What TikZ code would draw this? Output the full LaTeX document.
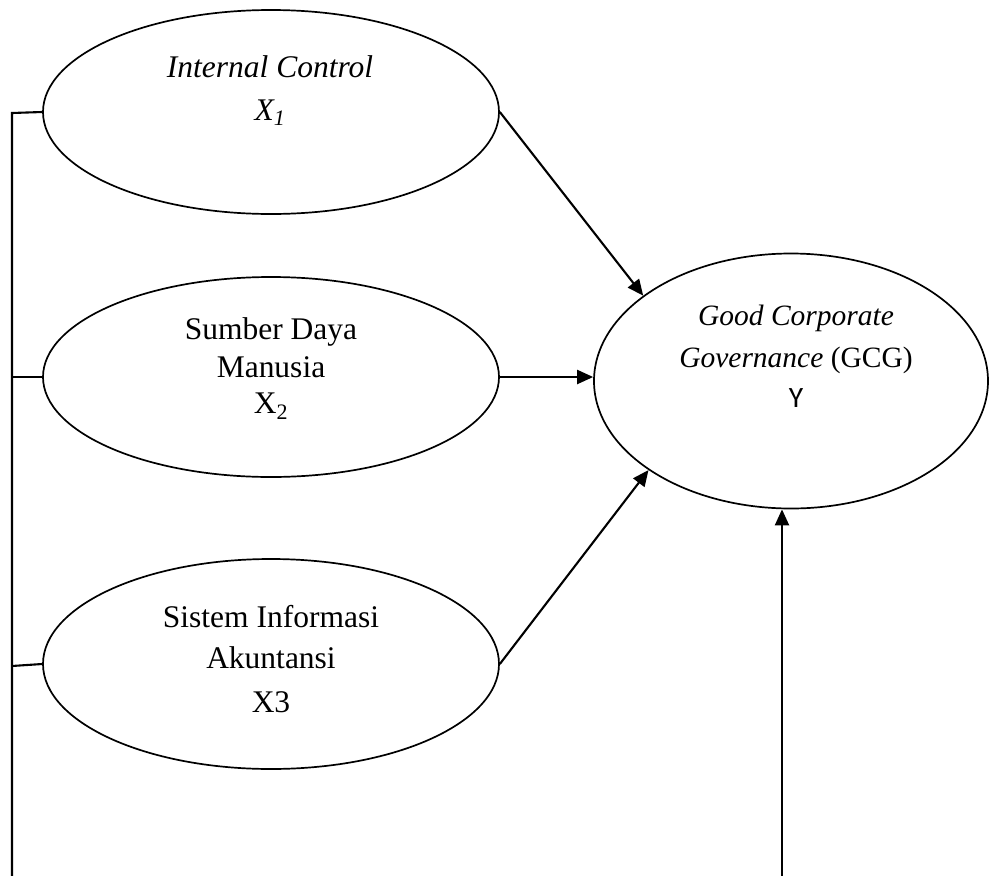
\documentclass[tikz,border=0pt]{standalone}
\usepackage{fontspec}
\setmainfont{Liberation Serif}
\newfontfamily\calfont{Carlito}
\usetikzlibrary{shapes.geometric,arrows.meta}
\begin{document}
\begin{tikzpicture}[x=1pt,y=-1pt,
  line width=2.1pt,
  latent/.style={draw, ellipse, inner sep=0pt, line width=1.7pt},
  lbl/.style={anchor=base, inner sep=0pt, font=\fontsize{31.5}{38}\selectfont},
  lbly/.style={anchor=base, inner sep=0pt, font=\fontsize{29.5}{36}\selectfont},
  arr/.style={-{Triangle[length=16pt,width=14pt]}}]
\useasboundingbox (0,0) rectangle (989,876);

\node[latent, minimum width=456pt, minimum height=204pt] (X1) at (271,112) {};
\node[latent, minimum width=456pt, minimum height=200pt] (X2) at (271,377) {};
\node[latent, minimum width=456pt, minimum height=210pt] (X3) at (271,664) {};
\node[latent, minimum width=394pt, minimum height=255pt] (Y) at (791,381) {};

\node[lbl] (t1a) at (270,77) {\itshape Internal Control};
\node[lbl] (t1b) at (270,120) {\itshape X\textsubscript{1}};

\node[lbl] (t2a) at (271,339) {Sumber Daya};
\node[lbl] (t2b) at (271,377) {Manusia};
\node[lbl] (t2c) at (271,413) {X\textsubscript{2}};

\node[lbl] (t3a) at (271,627) {Sistem Informasi};
\node[lbl] (t3b) at (271,668) {Akuntansi};
\node[lbl] (t3c) at (271,712) {X3};

\node[lbly] (tya) at (796,325) {\itshape Good Corporate};
\node[lbly] (tyb) at (796,367) {\itshape Governance\/ \upshape(GCG)};
\node[lbly] (tyc) at (796,407) {\calfont Y};

\coordinate (ltop) at (12,113);
\coordinate (l2) at (12,377);
\coordinate (l3) at (12,666);
\coordinate (lbot) at (12,876);
\coordinate (ybot) at (782,876);

\draw (X1.west) -- (ltop) -- (lbot);
\draw (X2.west) -- (l2);
\draw (X3.west) -- (l3);

\draw[arr] (X1.east) -- (Y.150);
\draw[arr] (X2.east) -- (X2.east -| Y.west);
\draw[arr] (X3.east) -- (Y.212);
\draw[arr] (ybot) -- (ybot |- Y.south);
\end{tikzpicture}
\end{document}
